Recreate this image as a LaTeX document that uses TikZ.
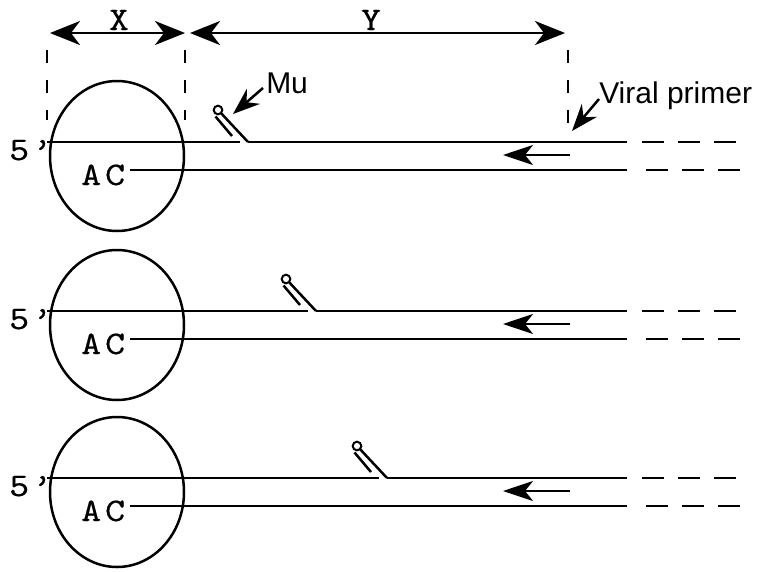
\documentclass[tikz,border=0pt]{standalone}
\usepackage{fontspec}
\setmainfont{Liberation Sans}
\newfontfamily\widemono{lmmono10-regular.otf}[FakeStretch=1.15,FakeBold=0.45]
\usetikzlibrary{arrows.meta}
\begin{document}
\begin{tikzpicture}[x=1pt,y=-1pt,line width=2.5pt,
  dimarr/.style={{Stealth[length=30pt,width=24pt,inset=9pt]}-{Stealth[length=30pt,width=24pt,inset=9pt]}},
  primarr/.style={-{Stealth[length=30pt,width=20pt,inset=8pt]}},
  ptr/.style={-{Stealth[length=27pt,width=20pt,inset=9pt]}},
  guide/.style={dash pattern=on 13pt off 17pt},
  tail/.style={dash pattern=on 22pt off 14pt},
  mono/.style={font=\widemono\fontsize{33pt}{33pt}\selectfont, inner sep=0pt},
  sans/.style={font=\fontsize{30pt}{30pt}\selectfont, inner sep=0pt}]
\useasboundingbox (0,0) rectangle (761,571);

% dimension arrows X and Y
\coordinate (xa) at (50,33);
\coordinate (xb) at (185,33);
\coordinate (ya) at (190,33);
\coordinate (yb) at (565,33);
\draw[dimarr] (xa) -- (xb);
\draw[dimarr] (ya) -- (yb);
\node[mono, anchor=base] (xlab) at (119,30) {X};
\node[mono, anchor=base] (ylab) at (371,30) {Y};

% dashed guide lines
\coordinate (g1a) at (47,50);  \coordinate (g1b) at (47,120);
\coordinate (g2a) at (185,50); \coordinate (g2b) at (185,120);
\coordinate (g3a) at (568,50); \coordinate (g3b) at (568,123);
\draw[guide] (g1a) -- (g1b);
\draw[guide] (g2a) -- (g2b);
\draw[guide] (g3a) -- (g3b);

% labels with pointers
\node[sans, anchor=base west] (mulab) at (265,93) {Mu};
\node[sans, anchor=base west] (vplab) at (598,103) {Viral primer};
\coordinate (mutip) at (233,114);
\coordinate (vptip) at (572,131);
\draw[ptr] (mulab.base west) ++(-2,-5) -- (mutip);
\draw[ptr] (vplab.base west) ++(1,-4) -- (vptip);

% three panels
\foreach \i/\dy/\dx in {1/0/0, 2/169/68, 3/336/139} {
  \begin{scope}[shift={(0,\dy)}]
    \draw (117,156) ellipse [x radius=67, y radius=75];
    % top strand with Mu hairpin
    \coordinate (ts\i) at (47,142);
    \coordinate (tl\i) at (240+\dx,142);
    \coordinate (tr\i) at (248+\dx,142);
    \coordinate (te\i) at (627,142);
    \draw (ts\i) -- (tl\i);
    \draw (tr\i) -- (te\i);
    \draw (tr\i) -- (220.8+\dx,112.9);
    \draw (232+\dx,136) -- (215.5+\dx,116.5);
    \draw[line width=2pt] (218+\dx,110) circle [radius=4.3];
    % bottom strand
    \coordinate (bs\i) at (130,170);
    \coordinate (be\i) at (627,170);
    \draw (bs\i) -- (be\i);
    % continuation dashes
    \draw[tail] (642,142) -- (737,142);
    \draw[tail] (646,170) -- (741,170);
    % primer direction
    \coordinate (pa\i) at (570,155);
    \coordinate (pb\i) at (503,155);
    \draw[primarr] (pa\i) -- (pb\i);
    % end labels
    \node[mono, anchor=base west] (five\i) at (8,160) {5\hspace{3pt}’};
    \node[mono, anchor=base west] (ac\i) at (80,185) {A\hspace{4pt}C};
  \end{scope}
}
\end{tikzpicture}
\end{document}
